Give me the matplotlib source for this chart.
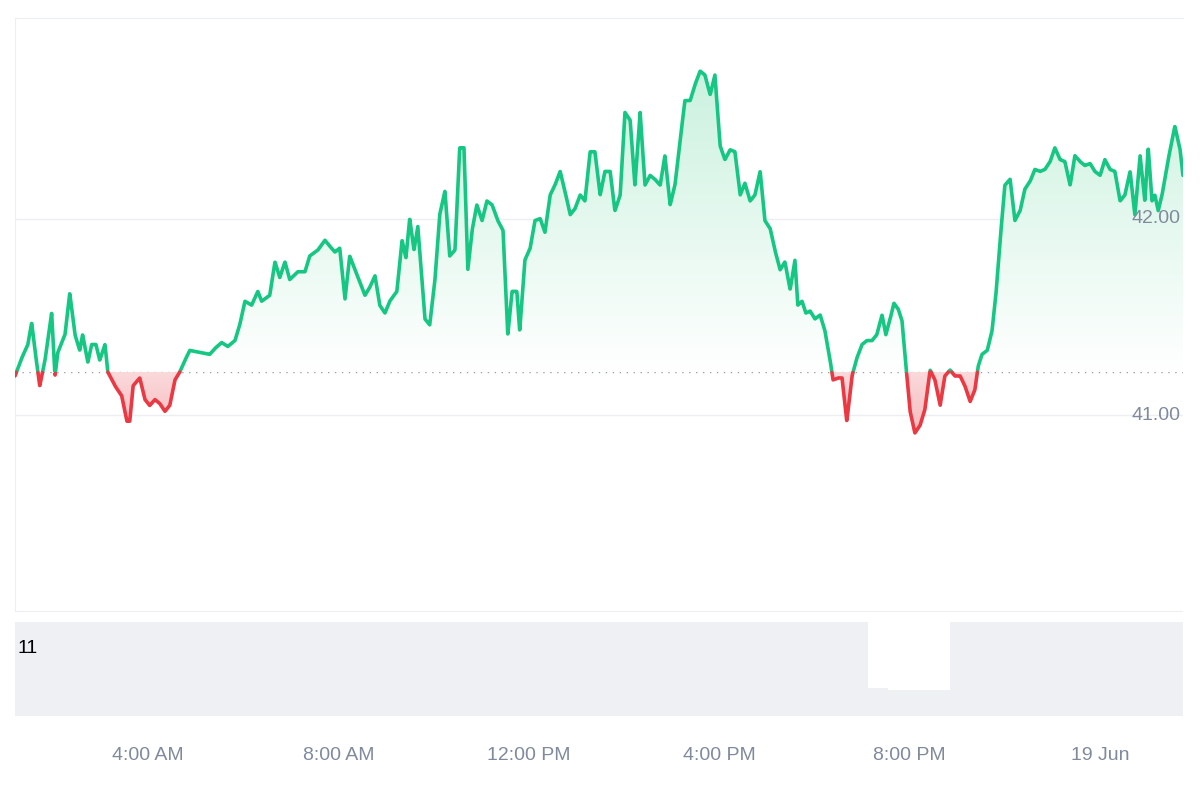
import numpy as np
import matplotlib.pyplot as plt
from matplotlib.colors import LinearSegmentedColormap

plt.rcParams['font.family'] = 'Liberation Sans'

# hours since 18 Jun 00:00
hours = [1.21, 1.35, 1.48, 1.56, 1.63, 1.73, 1.84, 1.98, 2.05, 2.11, 2.26, 2.36, 2.47, 2.57, 2.63, 2.74,
         2.82, 2.91, 2.99, 3.10, 3.16, 3.31, 3.45, 3.56, 3.62, 3.69, 3.83, 3.94, 4.04, 4.15, 4.25, 4.36,
         4.46, 4.57, 4.67, 4.78, 4.88, 5.09, 5.30, 5.41, 5.55, 5.68, 5.83, 5.93, 6.04, 6.18, 6.31, 6.39,
         6.56, 6.67, 6.77, 6.88, 6.98, 7.15, 7.30, 7.40, 7.57, 7.72, 7.82, 7.93, 8.03, 8.14, 8.24, 8.35,
         8.45, 8.56, 8.66, 8.77, 8.87, 8.98, 9.08, 9.23, 9.34, 9.42, 9.50, 9.59, 9.67, 9.82, 9.92, 10.03,
         10.13, 10.24, 10.34, 10.45, 10.55, 10.64, 10.72, 10.81, 10.91, 11.02, 11.12, 11.23, 11.35, 11.46,
         11.56, 11.65, 11.75, 11.81, 11.92, 12.03, 12.13, 12.24, 12.34, 12.45, 12.55, 12.66, 12.76, 12.87,
         12.97, 13.08, 13.18, 13.29, 13.39, 13.50, 13.60, 13.71, 13.81, 13.92, 14.02, 14.13, 14.23, 14.34,
         14.44, 14.55, 14.65, 14.76, 14.86, 14.97, 15.07, 15.18, 15.28, 15.39, 15.49, 15.60, 15.70, 15.81,
         15.91, 16.02, 16.12, 16.23, 16.33, 16.44, 16.54, 16.65, 16.75, 16.86, 16.96, 17.07, 17.17, 17.28,
         17.38, 17.49, 17.59, 17.65, 17.74, 17.82, 17.91, 18.01, 18.12, 18.22, 18.33, 18.39, 18.50, 18.58,
         18.68, 18.79, 18.89, 19.00, 19.10, 19.21, 19.31, 19.42, 19.50, 19.59, 19.67, 19.76, 19.84, 19.90,
         20.01, 20.11, 20.22, 20.32, 20.43, 20.53, 20.64, 20.74, 20.85, 20.95, 21.06, 21.16, 21.27, 21.37,
         21.44, 21.52, 21.63, 21.73, 21.81, 21.90, 22.00, 22.11, 22.21, 22.32, 22.42, 22.53, 22.63, 22.74,
         22.84, 22.95, 23.05, 23.16, 23.26, 23.37, 23.47, 23.58, 23.68, 23.79, 23.89, 24.00, 24.10, 24.21,
         24.31, 24.42, 24.52, 24.63, 24.73, 24.84, 24.94, 25.01, 25.09, 25.15, 25.22, 25.30, 25.43, 25.57,
         25.68, 25.74]
price = [41.20, 41.29, 41.36, 41.47, 41.33, 41.15, 41.28, 41.52, 41.20, 41.32, 41.41, 41.62, 41.41, 41.33, 41.41, 41.27,
         41.36, 41.36, 41.28, 41.36, 41.22, 41.15, 41.10, 40.97, 40.97, 41.15, 41.19, 41.08, 41.05, 41.08, 41.06, 41.02,
         41.05, 41.18, 41.22, 41.28, 41.33, 41.32, 41.31, 41.34, 41.37, 41.35, 41.38, 41.46, 41.58, 41.56, 41.63, 41.58,
         41.61, 41.78, 41.70, 41.78, 41.69, 41.73, 41.73, 41.81, 41.84, 41.89, 41.86, 41.83, 41.85, 41.59, 41.81, 41.74,
         41.68, 41.61, 41.65, 41.71, 41.56, 41.52, 41.58, 41.63, 41.89, 41.80, 42.00, 41.84, 41.96, 41.49, 41.46, 41.69,
         42.02, 42.14, 41.81, 41.84, 42.36, 42.36, 41.74, 41.94, 42.07, 41.99, 42.09, 42.07, 41.99, 41.94,
         41.41, 41.63, 41.63, 41.43, 41.79, 41.85, 41.99, 42.00, 41.93, 42.12, 42.17, 42.24, 42.14, 42.02,
         42.05, 42.12, 42.09, 42.34, 42.34, 42.12, 42.24, 42.24, 42.04, 42.12, 42.54, 42.50, 42.17, 42.54,
         42.17, 42.22, 42.20, 42.17, 42.32, 42.07, 42.17, 42.40, 42.60, 42.60, 42.68, 42.75, 42.73, 42.63,
         42.73, 42.37, 42.30, 42.35, 42.34, 42.12, 42.18, 42.09, 42.12, 42.24, 41.99, 41.95, 41.84, 41.74,
         41.78, 41.64, 41.79, 41.56, 41.58, 41.52, 41.53, 41.49, 41.51, 41.43, 41.28, 41.18, 41.19, 41.19,
         40.97, 41.20, 41.29, 41.36, 41.38, 41.38, 41.41, 41.51, 41.41, 41.49, 41.57, 41.54, 41.48, 41.31,
         41.02, 40.91, 40.95, 41.03, 41.23, 41.18, 41.05, 41.20, 41.23, 41.20, 41.20, 41.15, 41.07, 41.13,
         41.25, 41.31, 41.33, 41.43, 41.61, 41.89, 42.17, 42.20, 41.99, 42.04, 42.15, 42.19, 42.25, 42.24,
         42.25, 42.29, 42.36, 42.30, 42.29, 42.17, 42.32, 42.29, 42.27, 42.28, 42.24, 42.22, 42.30, 42.25,
         42.24, 42.09, 42.12, 42.24, 42.02, 42.32, 42.09, 42.36, 42.09, 42.12, 42.04, 42.12, 42.30, 42.47,
         42.35, 42.22]
baseline = 41.22

# volume panel: block starts and relative heights
vol_start = [1.21, 2, 3, 4, 5, 6, 7, 8, 9, 10, 11, 12, 13, 14, 15, 16, 17, 18, 19.12, 19.55, 20.84, 22, 23, 24, 25]
vol_level = [1.0, 1.0, 1.0, 1.0, 1.0, 1.0, 1.0, 1.0, 1.0, 1.0, 1.0, 1.0, 1.0, 1.0, 1.0, 1.0, 1.0, 1.0, 0.3, 0.28, 1.0, 1.0, 1.0, 1.0, 1.0]

green = '#16c784'
red = '#ea3943'
grid_c = '#eceef2'
text_c = '#808a9d'

x = np.array(hours)
y = np.array(price)
xmin, xmax = x[0], x[-1]

fig = plt.figure(figsize=(12, 8), dpi=100)
ax = fig.add_axes([0.0125, 0.235, 0.9733, 0.7425])
ax.set_xlim(xmin, xmax)
ax.set_ylim(40.0, 43.02)

for v in [41.0, 42.0]:
    ax.axhline(v, color=grid_c, lw=1, zorder=0)
    ax.text(xmax - 0.05, v, f'{v:.2f}', ha='right', va='center', color=text_c, fontsize=14, zorder=5)
ax.axhline(baseline, color='#9aa0aa', lw=1, ls=(0, (1, 4)), zorder=1)

# gradient fills, clipped to the area between line and baseline
xf = np.linspace(xmin, xmax, 6000)
yf = np.interp(xf, x, y)
cm_g = LinearSegmentedColormap.from_list('g', ['#ffffff', '#c9f1de'])
cm_r = LinearSegmentedColormap.from_list('r', ['#f5b5b9', '#fbd9db'])
poly_g = ax.fill_between(xf, baseline, yf, where=yf >= baseline, color='none', interpolate=True)
poly_r = ax.fill_between(xf, baseline, yf, where=yf < baseline, color='none', interpolate=True)
grad = np.linspace(0, 1, 256).reshape(-1, 1)
for p in poly_g.get_paths():
    im = ax.imshow(grad, cmap=cm_g, aspect='auto', origin='lower',
                   extent=[xmin, xmax, baseline, 42.8], zorder=1)
    im.set_clip_path(p, transform=ax.transData)
for p in poly_r.get_paths():
    im = ax.imshow(grad, cmap=cm_r, aspect='auto', origin='lower',
                   extent=[xmin, xmax, 40.85, baseline], zorder=1)
    im.set_clip_path(p, transform=ax.transData)

ax.plot(xf, np.where(yf >= baseline, yf, np.nan), color=green, lw=2.6, zorder=3, solid_capstyle='round')
ax.plot(xf, np.where(yf <= baseline, yf, np.nan), color=red, lw=2.6, zorder=3, solid_capstyle='round')

ax.set_xticks([])
ax.set_yticks([])
for s in ['right', 'bottom']:
    ax.spines[s].set_visible(False)
for s in ['top', 'left']:
    ax.spines[s].set_color(grid_c)
ax.axhline(40.0, color=grid_c, lw=1.5)

# volume panel
axv = fig.add_axes([0.0125, 0.105, 0.9733, 0.13])
axv.set_xlim(xmin, xmax)
axv.set_ylim(0, 1.0 / 0.9)
widths = np.diff(vol_start + [xmax])
axv.bar(vol_start, vol_level, width=widths, align='edge', color='#eef0f4', edgecolor='none')
axv.text(xmin + 0.05, 0.72, '11', fontsize=14, color='black', va='center')
axv.set_yticks([])
for s in axv.spines.values():
    s.set_visible(False)
axv.set_xticks([4, 8, 12, 16, 20, 24])
axv.set_xticklabels(['4:00 AM', '8:00 AM', '12:00 PM', '4:00 PM', '8:00 PM', '19 Jun'])
axv.tick_params(axis='x', length=0, labelsize=14, labelcolor=text_c, pad=22)

fig.savefig('out.png', dpi=100, facecolor='white')
